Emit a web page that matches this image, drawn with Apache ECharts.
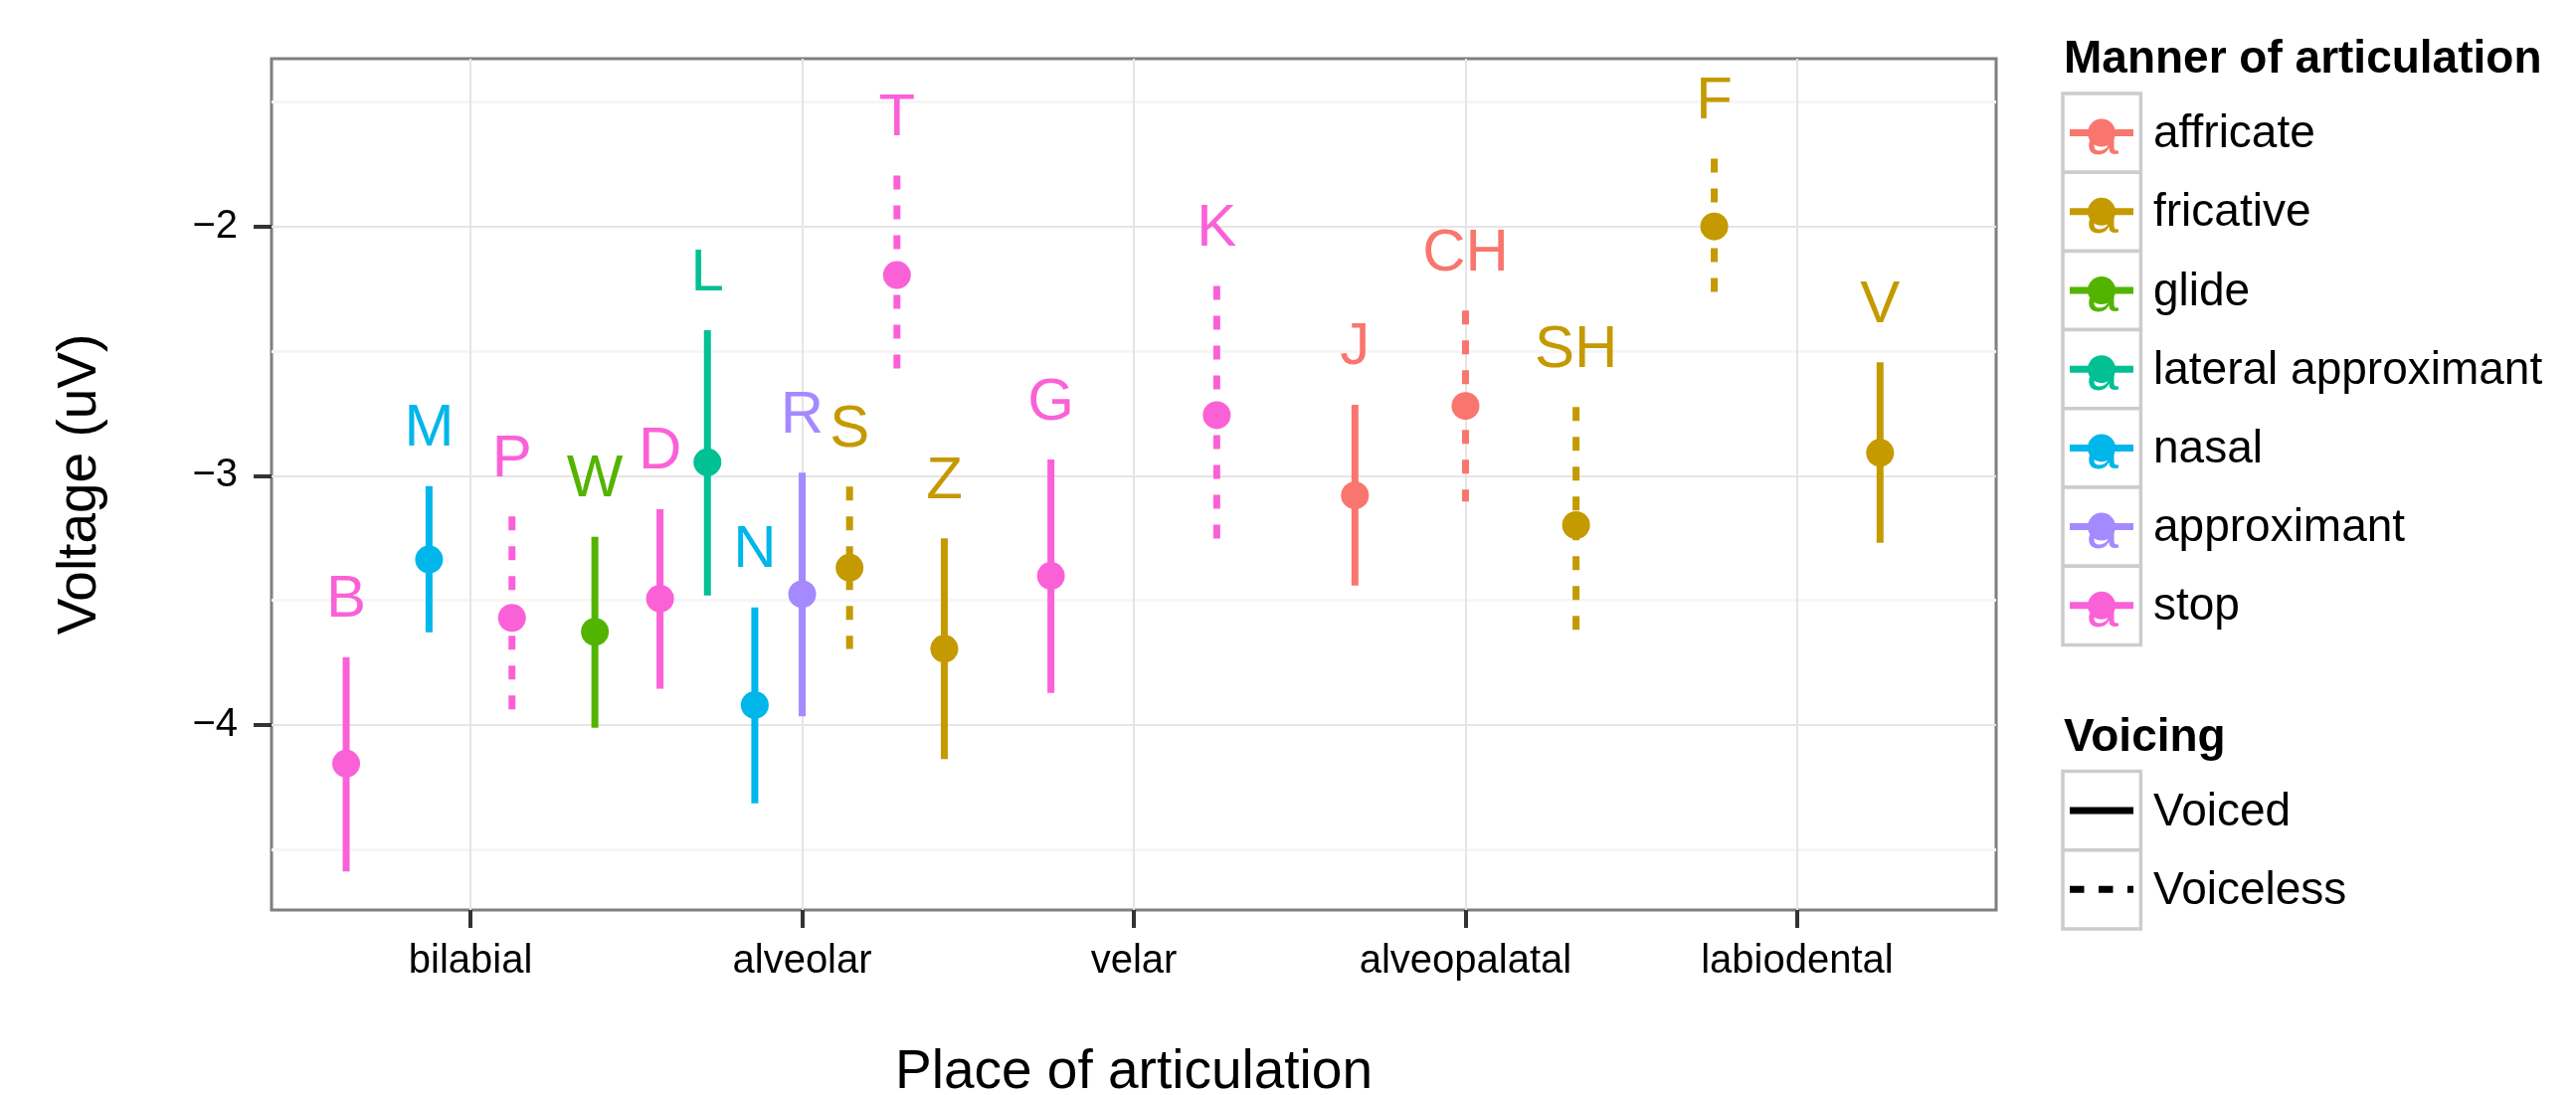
<!DOCTYPE html>
<html>
<head>
<meta charset="utf-8">
<title>Voltage by place of articulation</title>
<script src="https://cdn.jsdelivr.net/npm/echarts@6/dist/echarts.min.js"></script>
<style>
  html, body { margin: 0; padding: 0; background: #fff; }
  #chart { width: 2590px; height: 1101px; }
</style>
</head>
<body>
<div id="chart"></div>
<script>
const places = ['bilabial', 'alveolar', 'velar', 'alveopalatal', 'labiodental'];
const manners = ['affricate', 'fricative', 'glide', 'lateral approximant', 'nasal', 'approximant', 'stop'];
const voicings = ['Voiced', 'Voiceless'];

const phonemes = ['B', 'M', 'P', 'W', 'D', 'L', 'N', 'R', 'S', 'T', 'Z', 'G', 'K', 'J', 'CH', 'SH', 'F', 'V'];
const phonemePlace = ['bilabial', 'bilabial', 'bilabial', 'bilabial',
  'alveolar', 'alveolar', 'alveolar', 'alveolar', 'alveolar', 'alveolar', 'alveolar',
  'velar', 'velar', 'alveopalatal', 'alveopalatal', 'alveopalatal', 'labiodental', 'labiodental'];
const phonemeManner = ['stop', 'nasal', 'stop', 'glide', 'stop', 'lateral approximant', 'nasal',
  'approximant', 'fricative', 'stop', 'fricative', 'stop', 'stop', 'affricate', 'affricate',
  'fricative', 'fricative', 'fricative'];
const phonemeVoicing = ['Voiced', 'Voiced', 'Voiceless', 'Voiced', 'Voiced', 'Voiced', 'Voiced',
  'Voiced', 'Voiceless', 'Voiceless', 'Voiced', 'Voiced', 'Voiceless', 'Voiced', 'Voiceless',
  'Voiceless', 'Voiceless', 'Voiced'];
const meanVoltage = [-4.155, -3.336, -3.570, -3.626, -3.493, -2.946, -3.920, -3.475, -3.369,
  -2.195, -3.694, -3.402, -2.757, -3.079, -2.720, -3.198, -2.000, -2.908];
const lowerVoltage = [-4.587, -3.628, -3.977, -4.011, -3.854, -3.480, -4.314, -3.965, -3.695,
  -2.594, -4.137, -3.871, -3.275, -3.440, -3.103, -3.672, -2.272, -3.269];
const upperVoltage = [-3.728, -3.041, -3.163, -3.245, -3.134, -2.416, -3.528, -2.988, -3.043,
  -1.796, -3.251, -2.935, -2.239, -2.715, -2.337, -2.724, -1.728, -2.545];

const yTicks = [-4, -3, -2];
const yMinorTicks = [-4.5, -3.5, -2.5, -1.5];

// ggplot hue palette, one per manner
const mannerColors = ['#F8766D', '#C49A00', '#53B400', '#00C094', '#00B6EB', '#A58AFF', '#FB61D7'];
const font = "'Liberation Sans', Arial, Helvetica, sans-serif";

// position_dodge(width = 1) inside each place
const xPos = phonemes.map((p, i) => {
  const group = phonemes.map((_, j) => j).filter(j => phonemePlace[j] === phonemePlace[i]);
  const n = group.length;
  const rank = group.indexOf(i);
  return places.indexOf(phonemePlace[i]) + 1 + (rank - (n - 1) / 2) / n;
});

const seriesData = phonemes.map((p, i) => [xPos[i], meanVoltage[i], lowerVoltage[i], upperVoltage[i], i]);

function renderErrorBar(params, api) {
  const i = api.value(4);
  const color = mannerColors[manners.indexOf(phonemeManner[i])];
  const top = api.coord([api.value(0), api.value(3)]);
  const bottom = api.coord([api.value(0), api.value(2)]);
  const mid = api.coord([api.value(0), api.value(1)]);
  const dashed = phonemeVoicing[i] === 'Voiceless';
  return {
    type: 'group',
    children: [
      {
        type: 'line',
        shape: { x1: top[0], y1: top[1], x2: bottom[0], y2: bottom[1] },
        style: { stroke: color, lineWidth: 7, lineDash: dashed ? [14, 16] : null }
      },
      {
        type: 'circle',
        shape: { cx: mid[0], cy: mid[1], r: 14 },
        style: { fill: color }
      },
      {
        type: 'text',
        x: top[0],
        y: top[1] - 57,
        style: {
          text: phonemes[i], fill: color, fontSize: 60, fontFamily: font,
          align: 'center', verticalAlign: 'middle'
        }
      }
    ]
  };
}

// legend, drawn like the ggplot guide boxes
const legendX = 2074;
const keyW = 78.4;
const keyH = 79.2;
const legend = [];
function keyBox(y) {
  legend.push({
    type: 'rect', shape: { x: legendX, y: y, width: keyW, height: keyH },
    style: { fill: '#fff', stroke: '#CCCCCC', lineWidth: 3.5 }
  });
}
function legendLabel(text, y) {
  legend.push({
    type: 'text', x: 2165, y: y + 2,
    style: { text: text, fill: '#000', fontSize: 46, fontFamily: font, align: 'left', verticalAlign: 'middle' }
  });
}
legend.push({
  type: 'text', x: 2075, y: 60,
  style: { text: 'Manner of articulation', fill: '#000', fontSize: 46, fontWeight: 'bold', fontFamily: font, verticalAlign: 'middle' }
});
manners.forEach((m, k) => {
  const y = 94 + k * keyH;
  const cy = y + keyH / 2;
  keyBox(y);
  legend.push({ type: 'text', x: 2114, y: cy + 5,
    style: { text: 'a', fill: mannerColors[k], fontSize: 58, fontFamily: font, align: 'center', verticalAlign: 'middle' } });
  legend.push({ type: 'line', shape: { x1: 2081, y1: cy, x2: 2145, y2: cy },
    style: { stroke: mannerColors[k], lineWidth: 7 } });
  legend.push({ type: 'circle', shape: { cx: 2113, cy: cy, r: 14 }, style: { fill: mannerColors[k] } });
  legendLabel(m, cy);
});
legend.push({
  type: 'text', x: 2075, y: 742,
  style: { text: 'Voicing', fill: '#000', fontSize: 46, fontWeight: 'bold', fontFamily: font, verticalAlign: 'middle' }
});
voicings.forEach((v, k) => {
  const y = 775.5 + k * keyH;
  const cy = y + keyH / 2;
  keyBox(y);
  legend.push({ type: 'line', shape: { x1: 2081, y1: cy, x2: 2145, y2: cy },
    style: { stroke: '#000', lineWidth: 7, lineDash: v === 'Voiceless' ? [14.5, 14.5] : null } });
  legendLabel(v, cy);
});

const chart = echarts.init(document.getElementById('chart'));
chart.setOption({
  animation: false,
  backgroundColor: '#fff',
  textStyle: { fontFamily: font },
  grid: {
    left: 273, right: 583, top: 59, bottom: 186,
    outerBoundsMode: 'none',
    containLabel: false,
    show: true, borderColor: '#7F7F7F', borderWidth: 3, backgroundColor: 'transparent'
  },
  xAxis: {
    type: 'value',
    min: 0.4,
    max: 5.6,
    name: 'Place of articulation',
    nameLocation: 'middle',
    nameGap: 136,
    nameTextStyle: { fontSize: 55, color: '#000', fontFamily: font },
    axisLine: { show: false },
    axisTick: { customValues: [1, 2, 3, 4, 5], length: 18, lineStyle: { color: '#333', width: 4 } },
    axisLabel: {
      customValues: [1, 2, 3, 4, 5],
      formatter: v => places[Math.round(v) - 1],
      fontSize: 40, color: '#000', margin: 32
    },
    splitLine: { show: true, lineStyle: { color: '#E5E5E5', width: 2 } }
  },
  yAxis: [
    {
      type: 'value',
      min: -4.742,
      max: -1.327,
      name: 'Voltage (uV)',
      nameLocation: 'middle',
      nameGap: 165,
      nameTextStyle: { fontSize: 55, color: '#000', fontFamily: font },
      axisLine: { show: false },
      axisTick: { show: true, customValues: yTicks, length: 18, lineStyle: { color: '#333', width: 4 } },
      axisLabel: {
        customValues: yTicks,
        formatter: v => (v < 0 ? '\u2212' : '') + Math.abs(v),
        fontSize: 40, color: '#000', margin: 34, padding: [6, 0, 0, 0]
      },
      splitLine: { show: true, lineStyle: { color: '#E5E5E5', width: 2 } }
    },
    {
      type: 'value',
      position: 'left',
      min: -4.742,
      max: -1.327,
      axisLine: { show: false },
      axisTick: { show: false, customValues: yMinorTicks },
      axisLabel: { show: false, customValues: yMinorTicks },
      splitLine: { show: true, lineStyle: { color: '#F6F6F6', width: 3 } }
    }
  ],
  series: [
    {
      type: 'custom',
      name: 'phonemes',
      renderItem: renderErrorBar,
      encode: { x: 0, y: [1, 2, 3] },
      data: seriesData,
      clip: false,
      z: 5
    }
  ],
  graphic: { elements: legend }
});
</script>
</body>
</html>
